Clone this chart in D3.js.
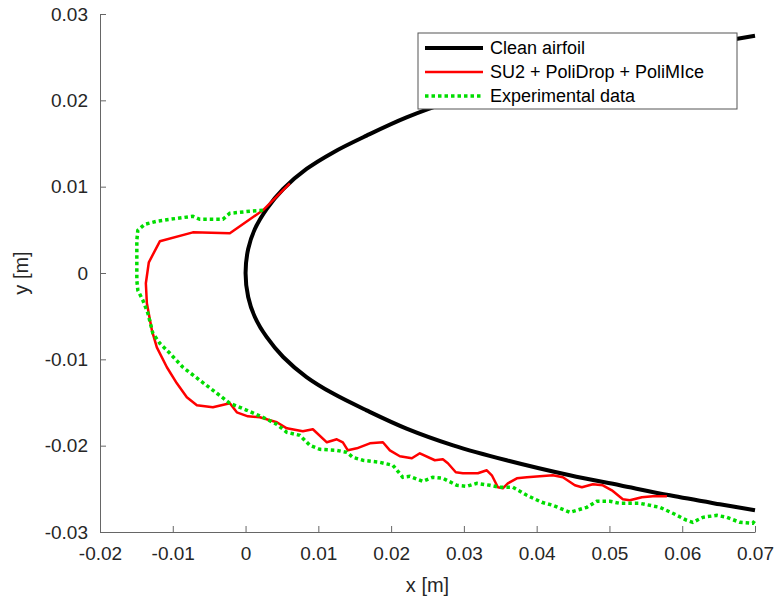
<!DOCTYPE html>
<html lang="en">
<head>
    <meta charset="UTF-8">
    <title>Ice shape</title>
    <script src="https://d3js.org/d3.v7.min.js"></script>
    <style>
        * { margin: 0; padding: 0; }
        body { background: #fff; font-family: "Liberation Sans", Arial, sans-serif; }
        .axis path, .axis line { stroke: #666; }
        .axis text { fill: #262626; font-size: 19px; font-family: "Liberation Sans", Arial, sans-serif; }
    </style>
</head>
<body>
<svg id="chart" width="775" height="600"></svg>
<script>
// --- data (x, y in metres) ---
const xTicks = [-0.02, -0.01, 0, 0.01, 0.02, 0.03, 0.04, 0.05, 0.06, 0.07];
const xTickLabels = ["-0.02", "-0.01", "0", "0.01", "0.02", "0.03", "0.04", "0.05", "0.06", "0.07"];
const yTicks = [-0.03, -0.02, -0.01, 0, 0.01, 0.02, 0.03];
const yTickLabels = ["-0.03", "-0.02", "-0.01", "0", "0.01", "0.02", "0.03"];

// clean airfoil, upper surface back to the nose, then lower surface
const airfoilX = [0.07000, 0.06517, 0.05830, 0.05143, 0.04456, 0.03586, 0.02852, 0.02212, 0.01663, 0.01204,
                  0.00838, 0.00517, 0.00289, 0.00128, 0.00036, 0,
                  0.00036, 0.00128, 0.00289, 0.00517, 0.00838, 0.01204, 0.01663, 0.02212, 0.02852, 0.03586,
                  0.04456, 0.05143, 0.05830, 0.06517, 0.07000];
const airfoilY = [0.02749, 0.02679, 0.02575, 0.02459, 0.02343, 0.02169, 0.01996, 0.01802, 0.01591, 0.01397,
                  0.01205, 0.00973, 0.00741, 0.00510, 0.00278, 0,
                  -0.00278, -0.00510, -0.00741, -0.00973, -0.01205, -0.01397, -0.01591, -0.01802, -0.01996, -0.02169,
                  -0.02343, -0.02459, -0.02575, -0.02679, -0.02749];

// SU2 + PoliDrop + PoliMIce
const su2X = [0.00609, 0.00238, -0.00216, -0.00724, -0.01178, -0.01329, -0.01370, -0.01356, -0.01287, -0.01219,
              -0.01081, -0.00944, -0.00807, -0.00669, -0.00449, -0.00216, -0.00120, 0.00032, 0.00196, 0.00430,
              0.00567, 0.00787, 0.00925, 0.01117, 0.01254, 0.01337, 0.01406, 0.01529, 0.01708, 0.01887,
              0.01983, 0.02120, 0.02285, 0.02395, 0.02601, 0.02711, 0.02780, 0.02889, 0.02986, 0.03192,
              0.03315, 0.03384, 0.03467, 0.03535, 0.03604, 0.03728, 0.03865, 0.04222, 0.04360, 0.04525,
              0.04621, 0.04772, 0.04909, 0.05033, 0.05184, 0.05280, 0.05445, 0.05596, 0.05789];
const su2Y = [0.01039, 0.00726, 0.00460, 0.00471, 0.00367, 0.00124, -0.00119, -0.00351, -0.00664, -0.00861,
              -0.01092, -0.01278, -0.01440, -0.01532, -0.01556, -0.01509, -0.01614, -0.01660, -0.01671, -0.01729,
              -0.01799, -0.01834, -0.01810, -0.01961, -0.01926, -0.01961, -0.02054, -0.02031, -0.01973, -0.01961,
              -0.02054, -0.02123, -0.02146, -0.02088, -0.02169, -0.02158, -0.02204, -0.02308, -0.02320, -0.02320,
              -0.02285, -0.02343, -0.02482, -0.02494, -0.02436, -0.02378, -0.02366, -0.02343, -0.02366, -0.02459,
              -0.02482, -0.02447, -0.02459, -0.02517, -0.02621, -0.02633, -0.02598, -0.02587, -0.02587];

// experimental data
const expX = [0.00238, 0.00059, -0.00216, -0.00312, -0.00628, -0.00724, -0.01040, -0.01219, -0.01384, -0.01480,
              -0.01494, -0.01494, -0.01494, -0.01480, -0.01411, -0.01342, -0.01274, -0.01178, -0.01040, -0.00861,
              -0.00628, -0.00394, -0.00216, 0.00018, 0.00238, 0.00430, 0.00567, 0.00746, 0.00883, 0.01021,
              0.01254, 0.01392, 0.01474, 0.01612, 0.01845, 0.02024, 0.02161, 0.02257, 0.02436, 0.02573,
              0.02711, 0.02903, 0.03041, 0.03178, 0.03357, 0.03494, 0.03673, 0.03865, 0.04071, 0.04222,
              0.04456, 0.04690, 0.04827, 0.05005, 0.05143, 0.05418, 0.05692, 0.05871, 0.06063, 0.06146,
              0.06283, 0.06476, 0.06613, 0.06792, 0.06970, 0.07000];
const expY = [0.00726, 0.00715, 0.00692, 0.00622, 0.00622, 0.00657, 0.00622, 0.00599, 0.00564, 0.00495,
              0.00379, 0.00182, -0.00085, -0.00200, -0.00316, -0.00467, -0.00698, -0.00814, -0.00930, -0.01092,
              -0.01243, -0.01393, -0.01509, -0.01590, -0.01671, -0.01753, -0.01845, -0.01880, -0.01996, -0.02042,
              -0.02054, -0.02077, -0.02135, -0.02169, -0.02193, -0.02227, -0.02366, -0.02355, -0.02413, -0.02366,
              -0.02378, -0.02459, -0.02471, -0.02436, -0.02459, -0.02482, -0.02482, -0.02575, -0.02656, -0.02691,
              -0.02772, -0.02714, -0.02644, -0.02644, -0.02668, -0.02668, -0.02714, -0.02783, -0.02865, -0.02888,
              -0.02830, -0.02807, -0.02830, -0.02888, -0.02899, -0.02865];

const legendNames = ["Clean airfoil", "SU2 + PoliDrop + PoliMIce", "Experimental data"];

// --- layout ---
const margin = { left: 100, right: 20, top: 14, bottom: 68 };
const width = 775 - margin.left - margin.right;
const height = 600 - margin.top - margin.bottom;

const svg = d3.select("#chart");
const g = svg.append("g").attr("transform", `translate(${margin.left},${margin.top})`);

const x = d3.scaleLinear().domain([-0.02, 0.07]).range([0, width]);
const y = d3.scaleLinear().domain([-0.03, 0.03]).range([height, 0]);

// axes (ticks point inward)
const xAxis = d3.axisBottom(x).tickValues(xTicks)
    .tickFormat((d, i) => xTickLabels[i]).tickSizeInner(-6).tickSizeOuter(0).tickPadding(15);
const yAxis = d3.axisLeft(y).tickValues(yTicks)
    .tickFormat((d, i) => yTickLabels[i]).tickSizeInner(-6).tickSizeOuter(0).tickPadding(12);

g.append("g").attr("class", "axis").attr("transform", `translate(0,${height})`).call(xAxis);
g.append("g").attr("class", "axis").call(yAxis);
g.selectAll(".axis text").attr("font-size", null);

// axis titles
g.append("text")
    .attr("x", width / 2).attr("y", height + 60)
    .attr("text-anchor", "middle")
    .style("font-size", "20px").style("fill", "#262626")
    .text("x [m]");
g.append("text")
    .attr("transform", `translate(${-72},${height / 2}) rotate(-90)`)
    .attr("text-anchor", "middle")
    .style("font-size", "20px").style("fill", "#262626")
    .text("y [m]");

// curves
const toPts = (xs, ys) => xs.map((v, i) => [v, ys[i]]);
const line = d3.line().x(d => x(d[0])).y(d => y(d[1]));
const smoothLine = d3.line().x(d => x(d[0])).y(d => y(d[1])).curve(d3.curveCatmullRom);

const styles = [
    { color: "#000000", width: 4, dash: null },
    { color: "#ff0000", width: 2.5, dash: null },
    { color: "#00dd00", width: 3.5, dash: "3.5,3" }
];

g.append("path")
    .attr("d", smoothLine(toPts(airfoilX, airfoilY)))
    .attr("fill", "none").attr("stroke", styles[0].color).attr("stroke-width", styles[0].width);
g.append("path")
    .attr("d", line(toPts(su2X, su2Y)))
    .attr("fill", "none").attr("stroke", styles[1].color).attr("stroke-width", styles[1].width)
    .attr("stroke-linejoin", "round");
g.append("path")
    .attr("d", line(toPts(expX, expY)))
    .attr("fill", "none").attr("stroke", styles[2].color).attr("stroke-width", styles[2].width)
    .attr("stroke-dasharray", styles[2].dash);

// legend
const legend = svg.append("g").attr("transform", "translate(418,33)");
legend.append("rect")
    .attr("width", 319).attr("height", 76)
    .attr("fill", "#fff").attr("stroke", "#555").attr("stroke-width", 1);

legendNames.forEach((name, i) => {
    const row = legend.append("g").attr("transform", `translate(0,${15 + i * 24})`);
    row.append("line")
        .attr("x1", 7).attr("x2", 65)
        .attr("stroke", styles[i].color).attr("stroke-width", styles[i].width)
        .attr("stroke-dasharray", styles[i].dash);
    row.append("text")
        .attr("x", 72).attr("dy", "0.35em")
        .style("font-size", "18px").style("fill", "#000")
        .text(name);
});
</script>
</body>
</html>
